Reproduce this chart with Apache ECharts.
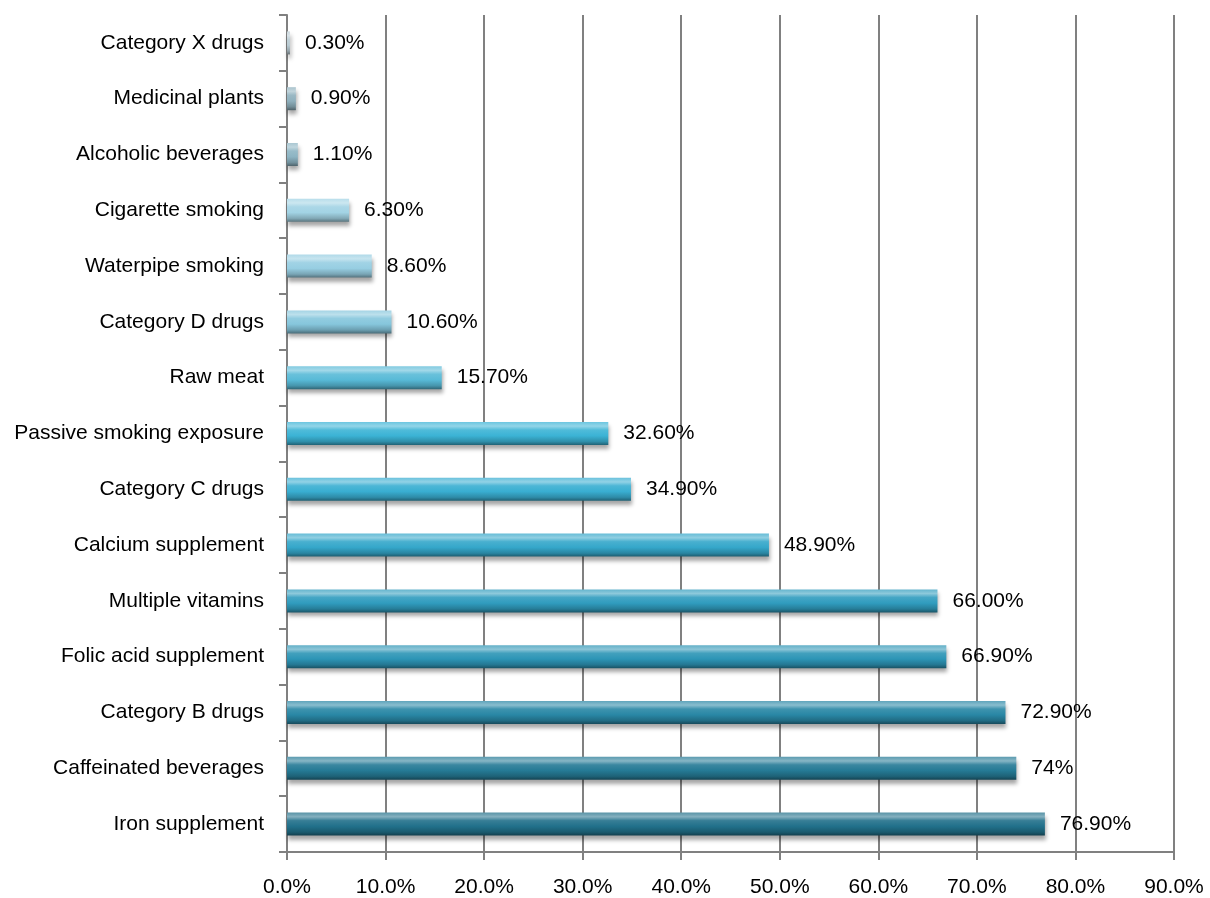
<!DOCTYPE html>
<html>
<head>
<meta charset="utf-8">
<script src="https://cdn.jsdelivr.net/npm/echarts@6/dist/echarts.min.js"></script>
<style>html,body{margin:0;padding:0;background:#fff}#c{width:1210px;height:898px}</style>
</head>
<body>
<div id="c"></div>
<script>
// Categories listed top to bottom
const categories = ["Category X drugs","Medicinal plants","Alcoholic beverages","Cigarette smoking","Waterpipe smoking","Category D drugs","Raw meat","Passive smoking exposure","Category C drugs","Calcium supplement","Multiple vitamins","Folic acid supplement","Category B drugs","Caffeinated beverages","Iron supplement"];
const values = [0.3,0.9,1.1,6.3,8.6,10.6,15.7,32.6,34.9,48.9,66.0,66.9,72.9,74,76.9];
const valueLabels = ["0.30%","0.90%","1.10%","6.30%","8.60%","10.60%","15.70%","32.60%","34.90%","48.90%","66.00%","66.90%","72.90%","74%","76.90%"];
const xTickLabels = ["0.0%","10.0%","20.0%","30.0%","40.0%","50.0%","60.0%","70.0%","80.0%","90.0%"];
const barColors = ["#b9cbd3","#8fb0bd","#8db4c3","#a2d3e4","#97cee2","#86c6dc","#58bad7","#3bb3d5","#39aed1","#35a7ca","#309cbe","#2d95b6","#2987a5","#257a95","#21708a"];

function mix(hex, target, t){
  const h = hex.replace('#','');
  const r = parseInt(h.substr(0,2),16), g = parseInt(h.substr(2,2),16), b = parseInt(h.substr(4,2),16);
  const m = c => Math.round(c + (target - c) * t);
  return 'rgb(' + m(r) + ',' + m(g) + ',' + m(b) + ')';
}
function grad(c){
  return new echarts.graphic.LinearGradient(0,0,0,1,[
    {offset:0, color: mix(c,255,0.25)},
    {offset:0.18, color: mix(c,255,0.45)},
    {offset:0.35, color: mix(c,255,0.1)},
    {offset:0.6, color: c},
    {offset:0.85, color: mix(c,0,0.2)},
    {offset:1, color: mix(c,0,0.45)}
  ]);
}

const data = values.map((v,i)=>({
  value: v,
  itemStyle: {color: grad(barColors[i]), shadowColor:'rgba(0,0,0,0.35)', shadowBlur:4, shadowOffsetY:4, shadowOffsetX:1}
}));

const chart = echarts.init(document.getElementById('c'));
chart.setOption({
  animation:false,
  textStyle:{fontFamily:'Liberation Sans, Arial, sans-serif'},
  grid:{left:287, right:36, top:15, bottom:46, containLabel:false},
  xAxis:{
    type:'value', min:0, max:90, interval:10,
    axisLine:{show:true, lineStyle:{color:'#808080', width:2}},
    axisTick:{show:true, length:8, lineStyle:{color:'#808080', width:2}},
    axisLabel:{margin:25, color:'#000', fontSize:21, fontFamily:'Liberation Sans, Arial, sans-serif',
      formatter:(v)=>xTickLabels[Math.round(v/10)]},
    splitLine:{show:true, lineStyle:{color:'#808080', width:2}}
  },
  yAxis:{
    type:'category', data:categories, inverse:true,
    axisLine:{show:true, lineStyle:{color:'#808080', width:2}},
    axisTick:{show:true, length:8, lineStyle:{color:'#808080', width:2}},
    axisLabel:{margin:23, color:'#000', fontSize:21, fontFamily:'Liberation Sans, Arial, sans-serif'},
    splitLine:{show:false}
  },
  series:[{
    type:'bar', data:data, barWidth:23,
    label:{show:true, position:'right', distance:15, color:'#000', fontSize:21,
      fontFamily:'Liberation Sans, Arial, sans-serif',
      formatter:(p)=>valueLabels[p.dataIndex]}
  }]
});
</script>
</body>
</html>
